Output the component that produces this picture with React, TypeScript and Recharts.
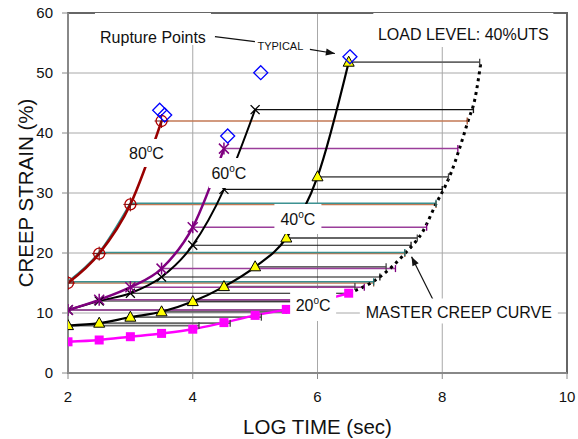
import React from 'react';
import {
  ComposedChart,
  Line,
  XAxis,
  YAxis,
  CartesianGrid,
  ReferenceArea,
  ReferenceDot,
  ReferenceLine,
  Scatter,
} from 'recharts';

// ---------- data ----------
const times = [2, 2.5, 3, 3.5, 4, 4.5, 5, 5.5, 6, 6.5];
const strain20 = [5.2, 5.5, 6.05, 6.6, 7.3, 8.4, 9.6, 10.6, 11.9, 13.3];
const strain40 = [7.9, 8.3, 9.3, 10.2, 11.9, 14.4, 17.7, 22.5, 32.7, 51.8];
const strain60a = [10.5, 12.0, 13.3, 16.0, 21.3, 30.6, 43.9];
const strain60b = [10.5, 12.2, 14.3, 17.4, 24.3, 37.4];
const strain80a = [15.2, 20.1, 28.3];
const strain80b = [15.0, 19.9, 28.1, 42.0];

const shift40 = 2.1;
const shift60a = 3.5;
const shift60b = 3.75;
const shift80 = 4.9;

const masterTime = [6.5, 7.0, 7.4, 7.7, 7.9, 8.05, 8.15, 8.27, 8.42, 8.52, 8.62];
const masterStrain = [13.3, 16.0, 19.9, 23.8, 28.2, 31.2, 33.6, 37.2, 42.2, 45.5, 51.8];

const ruptureTime = [3.47, 3.55, 4.56, 5.09, 6.52];
const ruptureStrain = [43.8, 43.0, 39.5, 50.05, 52.7];

const xTicks = [2, 4, 6, 8, 10];
const yTicks = [0, 10, 20, 30, 40, 50, 60];

// ---------- derived tables ----------
type Pt = { x: number; y: number | null; end?: boolean };

const curve = (ys: number[]): Pt[] => ys.map((y, i) => ({ x: times[i], y }));

const shifted = (ys: number[], shift: number): Pt[] => {
  const out: Pt[] = [];
  ys.forEach((y, i) => {
    out.push({ x: times[i], y });
    out.push({ x: times[i] + shift, y, end: true });
    out.push({ x: times[i] + shift, y: null });
  });
  return out;
};

const master: Pt[] = masterTime.map((x, i) => ({ x, y: masterStrain[i] }));
const rupture: Pt[] = ruptureTime.map((x, i) => ({ x, y: ruptureStrain[i] }));

// ---------- marker shapes ----------
const empty = (p: any) => <g key={`e${p.index}`} />;

const endTick = (color: string) => (p: any) =>
  p.payload && p.payload.end && p.cy != null ? (
    <line key={`t${p.index}`} x1={p.cx} x2={p.cx} y1={p.cy - 3.5} y2={p.cy + 3.5} stroke={color} strokeWidth={1.3} />
  ) : (
    empty(p)
  );

const squareDot = (p: any) => (
  <rect key={`s${p.index}`} x={p.cx - 4.5} y={p.cy - 4.5} width={9} height={9} fill="#ff00ff" />
);

const triangleDot = (p: any) => (
  <polygon
    key={`tr${p.index}`}
    points={`${p.cx},${p.cy - 6} ${p.cx + 5.5},${p.cy + 4} ${p.cx - 5.5},${p.cy + 4}`}
    fill="#ffff00"
    stroke="#000"
    strokeWidth={1}
  />
);

const crossDot = (p: any) => (
  <g key={`x${p.index}`} stroke="#000" strokeWidth={1.3}>
    <line x1={p.cx - 4.5} y1={p.cy - 4.5} x2={p.cx + 4.5} y2={p.cy + 4.5} />
    <line x1={p.cx - 4.5} y1={p.cy + 4.5} x2={p.cx + 4.5} y2={p.cy - 4.5} />
  </g>
);

const starDot = (p: any) => (
  <g key={`st${p.index}`} stroke="#800080" strokeWidth={1.5}>
    <line x1={p.cx - 5} y1={p.cy - 5} x2={p.cx + 5} y2={p.cy + 5} />
    <line x1={p.cx - 5} y1={p.cy + 5} x2={p.cx + 5} y2={p.cy - 5} />
    <line x1={p.cx} y1={p.cy - 6} x2={p.cx} y2={p.cy + 6} />
  </g>
);

const circlePlusDot = (p: any) => (
  <g key={`c${p.index}`}>
    <line x1={p.cx - 7} y1={p.cy} x2={p.cx + 7} y2={p.cy} stroke="#6a1010" strokeWidth={1} />
    <line x1={p.cx} y1={p.cy - 7} x2={p.cx} y2={p.cy + 7} stroke="#6a1010" strokeWidth={1} />
    <circle cx={p.cx} cy={p.cy} r={5.5} fill="none" stroke="#b00000" strokeWidth={1.3} />
  </g>
);

const diamondShape = (p: any) => (
  <polygon
    points={`${p.cx},${p.cy - 7} ${p.cx + 7},${p.cy} ${p.cx},${p.cy + 7} ${p.cx - 7},${p.cy}`}
    fill="none"
    stroke="#0000ff"
    strokeWidth={1.3}
  />
);

// ---------- annotation shapes ----------
const TempLabel = (t: string, w: number, h: number) => (p: any) => (
  <g>
    <rect x={p.cx - w / 2} y={p.cy - h / 2} width={w} height={h} fill="#ffffff" />
    <text x={p.cx} y={p.cy + 6} textAnchor="middle" fontSize={16} fill="#111">
      {t}
      <tspan dy={-7} fontSize={10}>o</tspan>
      <tspan dy={7}>C</tspan>
    </text>
  </g>
);

const TextLabel = (t: string, fs: number, w: number, top: number, h: number) => (p: any) => (
  <g>
    {w > 0 ? <rect x={p.cx - w / 2} y={p.cy + top} width={w} height={h} fill="#ffffff" /> : null}
    <text x={p.cx} y={p.cy + fs * 0.36} textAnchor="middle" fontSize={fs} fill="#111">
      {t}
    </text>
  </g>
);

const ArrowHead = (angle: number) => (p: any) => (
  <polygon
    points="0,0 -9,-3.5 -9,3.5"
    fill="#111"
    transform={`translate(${p.cx},${p.cy}) rotate(${angle})`}
  />
);

const font = "'Liberation Sans', Arial, sans-serif";

export default function App() {
  return (
    <div style={{ position: 'absolute', left: 0, top: 0, fontFamily: font, background: '#fff' }}>
      <ComposedChart width={578} height={439} margin={{ top: 13, right: 11, bottom: 0, left: 0 }}>
        <CartesianGrid stroke="#a8a8a8" strokeWidth={1} />
        <XAxis
          type="number"
          dataKey="x"
          domain={[2, 10]}
          ticks={xTicks}
          interval={0}
          allowDataOverflow
          height={66}
          tickSize={6}
          tickMargin={12}
          tick={{ fontSize: 15, fill: '#111' }}
          tickLine={{ stroke: '#888' }}
          axisLine={{ stroke: '#888', strokeWidth: 2 }}
          label={{ value: 'LOG TIME (sec)', position: 'insideBottom', offset: 5, fontSize: 20.5, fill: '#111' }}
        />
        <YAxis
          type="number"
          domain={[0, 60]}
          ticks={yTicks}
          interval={0}
          allowDataOverflow
          width={68}
          tickSize={6}
          tickMargin={9}
          tick={{ fontSize: 15, fill: '#111' }}
          tickLine={{ stroke: '#888' }}
          axisLine={{ stroke: '#888', strokeWidth: 2 }}
          label={{
            content: (props: any) => {
              const vb = props.viewBox || { x: 0, y: 13, width: 68, height: 360 };
              const cx = vb.x + 25.5;
              const cy = vb.y + vb.height / 2;
              return (
                <text
                  x={cx}
                  y={cy}
                  transform={`rotate(-90 ${cx} ${cy})`}
                  textAnchor="middle"
                  dominantBaseline="central"
                  fontSize={20.5}
                  fill="#111"
                >
                  CREEP STRAIN (%)
                </text>
              );
            },
          }}
        />
        <ReferenceArea x1={2} x2={10} y1={0} y2={60} fill="none" stroke="#666" strokeWidth={2} />

        {/* shift lines to master curve */}
        <Line data={shifted(strain40, shift40)} dataKey="y" stroke="#666" strokeWidth={1.8} dot={endTick('#444')} isAnimationActive={false} />
        <Line data={shifted(strain60a, shift60a)} dataKey="y" stroke="#111" strokeWidth={1.1} dot={endTick('#111')} isAnimationActive={false} />
        <Line data={shifted(strain60b, shift60b)} dataKey="y" stroke="#9a3d9a" strokeWidth={1.5} dot={endTick('#800080')} isAnimationActive={false} />
        <Line data={shifted(strain80b, shift80)} dataKey="y" stroke="#c47a55" strokeWidth={1.5} dot={endTick('#a05030')} isAnimationActive={false} />
        <Line data={shifted(strain80a, shift80)} dataKey="y" stroke="#3a9090" strokeWidth={1.5} dot={endTick('#207070')} isAnimationActive={false} />

        {/* master creep curve */}
        <Line data={master} dataKey="y" type="monotone" stroke="#000" strokeWidth={3} strokeDasharray="3 4" dot={false} isAnimationActive={false} />

        {/* test curves */}
        <Line data={curve(strain20)} dataKey="y" type="monotone" stroke="#ff00ff" strokeWidth={2.5} dot={squareDot} isAnimationActive={false} />
        <Line data={curve(strain40)} dataKey="y" type="monotone" stroke="#000" strokeWidth={2.2} dot={triangleDot} isAnimationActive={false} />
        <Line data={curve(strain60a)} dataKey="y" type="monotone" stroke="#000" strokeWidth={2} dot={crossDot} isAnimationActive={false} />
        <Line data={curve(strain60b)} dataKey="y" type="monotone" stroke="#800080" strokeWidth={2.5} dot={starDot} isAnimationActive={false} />
        <Line data={curve(strain80a)} dataKey="y" type="monotone" stroke="#2f8f8f" strokeWidth={2} dot={false} isAnimationActive={false} />
        <Line data={curve(strain80b)} dataKey="y" type="monotone" stroke="#990000" strokeWidth={2.5} dot={circlePlusDot} isAnimationActive={false} />

        {/* rupture points */}
        <Scatter data={rupture} dataKey="y" shape={diamondShape} isAnimationActive={false} />

        {/* temperature labels */}
        <ReferenceDot x={3.258} y={36.67} r={0} shape={TempLabel('80', 38, 28)} />
        <ReferenceDot x={4.58} y={33.33} r={0} shape={TempLabel('60', 40, 30)} />
        <ReferenceDot x={5.686} y={25.67} r={0} shape={TempLabel('40', 47, 30)} />
        <ReferenceDot x={5.93} y={11.33} r={0} shape={TempLabel('20', 46, 32)} />

        {/* text annotations */}
        <ReferenceDot x={3.362} y={56.0} r={0} shape={TextLabel('Rupture Points', 16, 116, -24, 32)} />
        <ReferenceDot x={5.405} y={54.5} r={0} shape={TextLabel('TYPICAL', 11, 0, 0, 0)} />
        <ReferenceDot x={8.338} y={56.5} r={0} shape={TextLabel('LOAD LEVEL: 40%UTS', 16, 180, -21, 34)} />
        <ReferenceDot x={8.266} y={10.17} r={0} shape={TextLabel('MASTER CREEP CURVE', 16, 198, -13.5, 25)} />

        {/* leader lines and arrows */}
        <ReferenceLine segment={[{ x: 4.356, y: 56.05 }, { x: 4.997, y: 55.22 }]} stroke="#111" strokeWidth={1.2} />
        <ReferenceLine segment={[{ x: 5.878, y: 53.95 }, { x: 6.279, y: 53.25 }]} stroke="#111" strokeWidth={1.2} />
        <ReferenceDot x={6.279} y={53.25} r={0} shape={ArrowHead(9.5)} />
        <ReferenceLine segment={[{ x: 7.854, y: 12.17 }, { x: 7.508, y: 19.38 }]} stroke="#111" strokeWidth={1.2} />
        <ReferenceDot x={7.508} y={19.38} r={0} shape={ArrowHead(-116.5)} />
      </ComposedChart>
    </div>
  );
}
